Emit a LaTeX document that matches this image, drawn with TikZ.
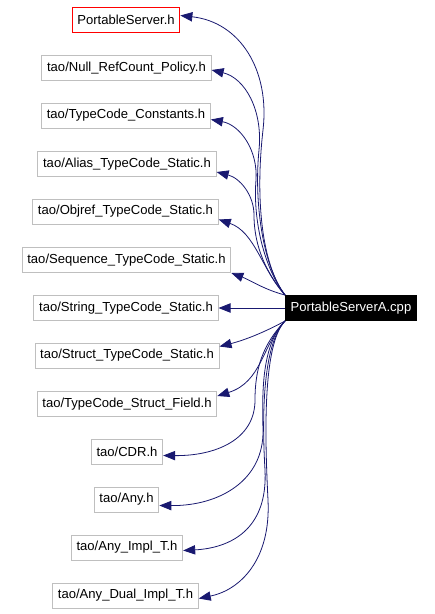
\documentclass[tikz,border=0pt]{standalone}
\usepackage{fontspec}
\setmainfont{Liberation Sans}
\usetikzlibrary{arrows.meta,calc}
\definecolor{edgeblue}{HTML}{191970}
\definecolor{boxgray}{HTML}{BFBFBF}
\begin{document}
\begin{tikzpicture}[x=0.75pt,y=-0.75pt,
  box/.style={draw=boxgray,line width=0.75pt,fill=white,inner xsep=3.9pt,inner ysep=0pt,minimum height=18.75pt,font=\fontsize{9.8}{11.6}\selectfont},
  redbox/.style={box,draw=red},
  mainbox/.style={box,draw=black,fill=black,text=white},
  edge/.style={draw=edgeblue,line width=0.6pt,-{Triangle[length=9pt,width=7pt]}}]
\useasboundingbox (0,0) rectangle (435,614);
\node[redbox] (ps) at (126,19.5) {PortableServer.h};
\node[box] (null) at (126.5,68) {tao/Null\_RefCount\_Policy.h};
\node[box] (const) at (126,115.5) {tao/TypeCode\_Constants.h};
\node[box] (alias) at (127,164) {tao/Alias\_TypeCode\_Static.h};
\node[box] (objref) at (125.5,211.5) {tao/Objref\_TypeCode\_Static.h};
\node[box] (seq) at (126.5,260) {tao/Sequence\_TypeCode\_Static.h};
\node[box] (str) at (126,308) {tao/String\_TypeCode\_Static.h};
\node[mainbox] (cpp) at (351,308) {PortableServerA.cpp};
\node[box] (sts) at (127,355.5) {tao/Struct\_TypeCode\_Static.h};
\node[box] (stf) at (127,404) {tao/TypeCode\_Struct\_Field.h};
\node[box] (cdr) at (127,451.5) {tao/CDR.h};
\node[box] (any) at (126.5,499.5) {tao/Any.h};
\node[box] (impl) at (127,547.5) {tao/Any\_Impl\_T.h};
\node[box] (dual) at (125.5,595.5) {tao/Any\_Dual\_Impl\_T.h};
% upper edges
\draw[edge] (cpp.north west) .. controls (262,265) and (255,200) .. (263,130)
  .. controls (270,70) and (240,22) .. ($(ps.east)+(0,-4)$);
\draw[edge] (cpp.north west) .. controls (262,265) and (254,200) .. (259,150)
  .. controls (263,110) and (245,78) .. ($(null.east)+(0,2)$);
\draw[edge] (cpp.north west) .. controls (262,265) and (253,215) .. (256,180)
  .. controls (258,150) and (240,125) .. ($(const.east)+(0,4)$);
\draw[edge] (cpp.north west) .. controls (262,268) and (254,240) .. (254,215)
  .. controls (254,195) and (240,178) .. ($(alias.east)+(0,8)$);
\draw[edge] (cpp.north west) .. controls (262,270) and (255,232) .. ($(objref.east)+(0,8)$);
\draw[edge] (cpp.north west) .. controls (265,290) and (250,280) .. ($(seq.east)+(0,13)$);
\draw[edge] (cpp.west) -- (str.east);
% lower edges
\draw[edge] (cpp.south west) .. controls (265,332) and (245,340) .. ($(sts.east)+(0,-9)$);
\draw[edge] (cpp.south west) .. controls (262,345) and (262,382) .. ($(stf.east)+(0,-8)$);
\draw[edge] (cpp.south west) .. controls (262,345) and (255,370) .. (255,400)
  .. controls (255,440) and (215,456) .. ($(cdr.east)+(0,4)$);
\draw[edge] (cpp.south west) .. controls (262,345) and (262,390) .. (263,430)
  .. controls (264,480) and (220,506) .. ($(any.east)+(0,6)$);
\draw[edge] (cpp.south west) .. controls (262,345) and (262,420) .. (265,470)
  .. controls (268,530) and (230,548) .. ($(impl.east)+(0,3)$);
\draw[edge] (cpp.south west) .. controls (262,345) and (265,440) .. (268,500)
  .. controls (271,560) and (240,590) .. ($(dual.east)+(0,3)$);
\end{tikzpicture}
\end{document}
